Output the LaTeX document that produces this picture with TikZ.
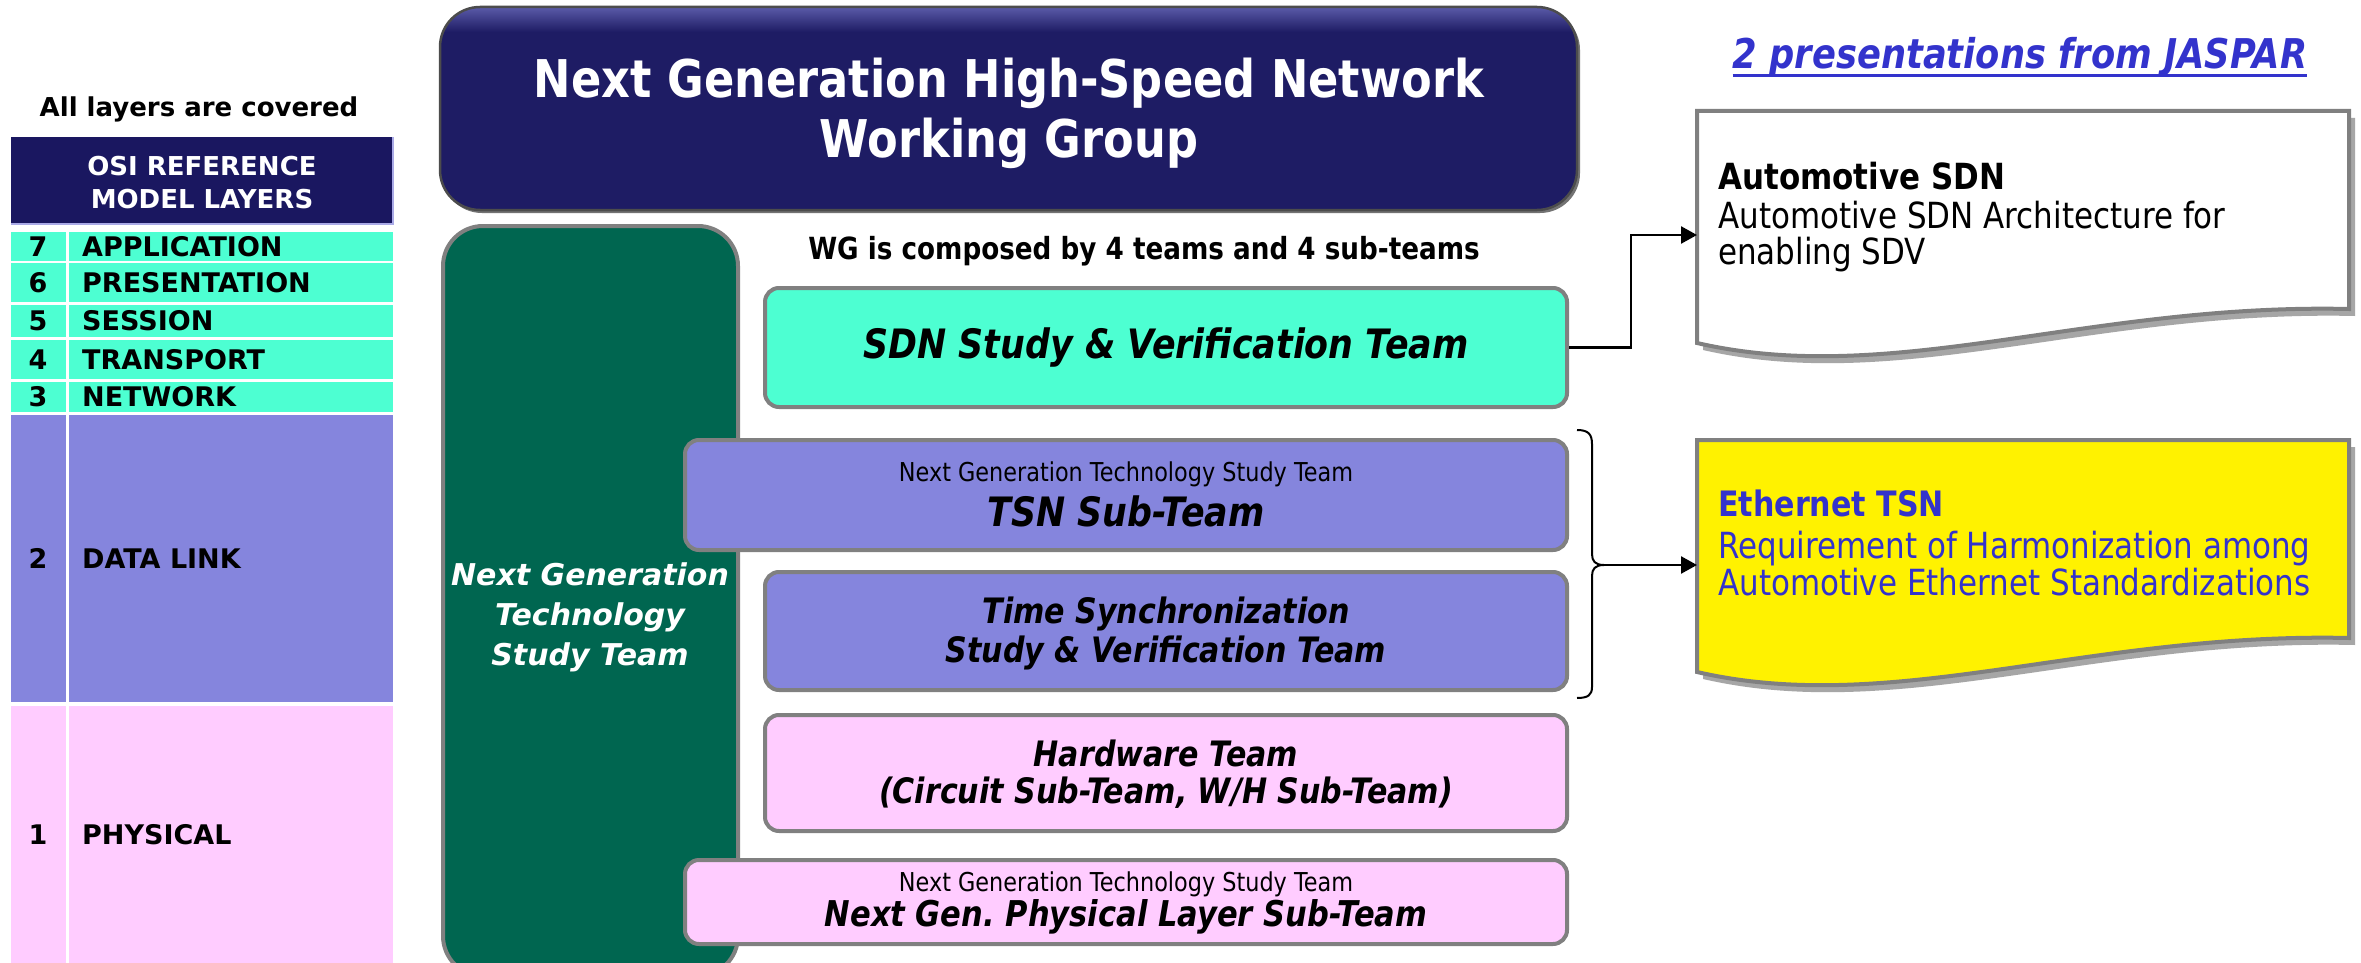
\documentclass[tikz,border=0pt]{standalone}
\usepackage{fontspec}
\setmainfont{DejaVu Sans}
\newfontfamily\tah{DejaVu Sans}[FakeStretch=0.86]
\newfontfamily\ver{DejaVu Sans}
\usetikzlibrary{arrows.meta,calc}
\definecolor{aqua}{HTML}{4DFFD2}
\definecolor{lav}{HTML}{8585DD}
\definecolor{pinkc}{HTML}{FFCCFF}
\definecolor{navy}{HTML}{1E1C64}
\definecolor{hlnavy}{HTML}{5A5AA8}
\definecolor{hnavy}{HTML}{1A1760}
\definecolor{dgreen}{HTML}{006650}
\definecolor{jblue}{HTML}{3333CC}
\definecolor{bord}{HTML}{808080}
\newcommand\fsz[2]{\fontsize{#1}{#2}\selectfont}
\begin{document}
\frenchspacing
\begin{tikzpicture}[x=1pt,y=-1pt,
  teambox/.style={draw=bord, line width=4pt, rounded corners=14pt, inner sep=0pt, align=center},
  bi/.style 2 args={font=\tah\bfseries\itshape\fsz{#1}{#2}},
  rowtxt/.style={font=\ver\bfseries\fsz{27}{30}, inner sep=0pt},
  arr/.style={line width=2.5pt, -{Triangle[length=16pt,width=17pt]}},
  docpath/.style 2 args={insert path={(#1,#2) -- ({#1+652},#2) -- ({#1+652},{#2+198}) .. controls ({#1+391},{#2+192}) and ({#1+196},{#2+277}) .. (#1,{#2+232}) -- cycle}},
  txt/.style={inner sep=0pt, align=center}
]
\useasboundingbox (0,0) rectangle (2361,963);
\fill[white] (0,0) rectangle (2361,963);

% ---------- OSI table ----------
\node[font=\ver\bfseries\fsz{26}{30}, inner sep=0pt] (allcov) at (199,109) {All layers are covered};
\fill[hnavy] (11,137) rectangle (393,224);
\draw[lav!70!white, line width=2pt] (11,224) -- (393,224) -- (393,137);
\node[font=\ver\bfseries\fsz{26}{33}, text=white, txt] (osi) at (202,183) {OSI REFERENCE\\MODEL LAYERS};
\foreach \ya/\yb/\col/\n/\name in {232/261/aqua/7/APPLICATION, 263/302/aqua/6/PRESENTATION, 305/337/aqua/5/SESSION, 340/379/aqua/4/TRANSPORT, 382/412/aqua/3/NETWORK, 415/702/lav/2/DATA LINK, 706/963/pinkc/1/PHYSICAL}{
  \fill[\col] (11,\ya) rectangle (66,\yb);
  \fill[\col] (69,\ya) rectangle (393,\yb);
  \node[rowtxt] (num\n) at (38,{(\ya+\yb)/2}) {\n};
  \node[rowtxt, anchor=west] (lay\n) at (82,{(\ya+\yb)/2}) {\name};
}

% ---------- Title ----------
\fill[black!55, rounded corners=40pt] (442,10) rectangle (1580,213);
\fill[navy, rounded corners=40pt] (440,7) rectangle (1577,210);
\begin{scope}
  \clip[rounded corners=40pt] (440,7) rectangle (1577,210);
  \shade[top color=hlnavy, bottom color=navy] (440,7) rectangle (1577,32);
\end{scope}
\node[draw=black!70, line width=2.5pt, rounded corners=40pt, minimum width=1137pt, minimum height=203pt, inner sep=0pt] (title) at (1008.5,108.5) {};
\node[font=\tah\bfseries\fsz{52}{60}, text=white, txt] (titletext) at (1009,113) {Next Generation High-Speed Network\\Working Group};

% ---------- Green team ----------
\node[draw=bord, line width=4pt, fill=dgreen, rounded corners=40pt, minimum width=295pt, minimum height=750pt, inner sep=0pt] (ngt) at (590.5,601) {};
\node[font=\ver\bfseries\itshape\fsz{30}{40}, text=white, txt] (ngttext) at (590,617) {Next Generation\\Technology\\Study Team};

\node[font=\tah\bfseries\fsz{30.5}{34}, inner sep=0pt] (wg) at (1144,251) {WG is composed by 4 teams and 4 sub-teams};

% ---------- Team boxes ----------
\node[teambox, fill=aqua, minimum width=802pt, minimum height=119pt, bi={40.5}{44}] (sdn) at (1166,347.5) {SDN Study \& Verification Team};

\node[teambox, fill=lav, minimum width=882pt, minimum height=110pt] (tsn) at (1126,495) {};
\node[font=\tah\fsz{26}{30}, txt] (tsnsmall) at (1126,474) {Next Generation Technology Study Team};
\node[bi={40.5}{44}, txt] (tsnbig) at (1126,511) {TSN Sub-Team};

\node[teambox, fill=lav, minimum width=802pt, minimum height=118pt] (ts) at (1166,631) {};
\node[bi={35}{39}, txt] (tstext) at (1166,633.5) {Time Synchronization\\Study \& Verification Team};

\node[teambox, fill=pinkc, minimum width=802pt, minimum height=116pt] (hw) at (1166,773) {};
\node[bi={35}{37}, txt] (hwtext) at (1166,774.5) {Hardware Team\\(Circuit Sub-Team, W/H Sub-Team)};

\node[teambox, fill=pinkc, minimum width=882pt, minimum height=84pt] (phy) at (1126,902) {};
\node[font=\tah\fsz{26}{30}, txt] (physmall) at (1126,884) {Next Generation Technology Study Team};
\node[bi={35.5}{39}, txt] (phybig) at (1126,917) {Next Gen. Physical Layer Sub-Team};

% ---------- Right side ----------
\node[bi={41}{45}, text=jblue, inner sep=0pt] (jaspar) at (2020,57) {2 presentations from JASPAR};
\draw[jblue, line width=2.5pt] ([yshift=-7pt]jaspar.base west) -- ([yshift=-7pt]jaspar.base east);

% SDN document
\fill[black!35, shift={(6,7)}, docpath={1697}{111}];
\draw[draw=bord, line width=4pt, fill=white, docpath={1697}{111}];
\node[font=\tah\bfseries\fsz{36}{40}, anchor=west, inner sep=0pt] (sdnh) at (1718,176) {Automotive SDN};
\node[font=\tah\fsz{36}{36}, anchor=west, align=left, inner sep=0pt] (sdnd) at (1718,237) {Automotive SDN Architecture for\\enabling SDV};

% Ethernet TSN document
\fill[black!35, shift={(6,7)}, docpath={1697}{440}];
\draw[draw=bord, line width=4pt, fill=yellow, docpath={1697}{440}];
\node[font=\tah\bfseries\fsz{35}{40}, text=jblue, anchor=west, inner sep=0pt] (ethh) at (1718,503) {Ethernet TSN};
\node[font=\tah\fsz{36}{37}, text=jblue, anchor=west, align=left, inner sep=0pt] (ethd) at (1718,564) {Requirement of Harmonization among\\Automotive Ethernet Standardizations};

% Connectors
\coordinate (sdnL) at (1697,235);
\coordinate (sdnbend) at (1631,235);
\draw[arr] (sdn.east) -| (sdnbend) -- (sdnL);

\draw[line width=2pt] (1577,430) .. controls (1588,430) and (1592,434) .. (1592,444) -- (1592,554) .. controls (1592,561) and (1595,565) .. (1604,565) .. controls (1595,565) and (1592,569) .. (1592,576) -- (1592,687) .. controls (1592,695) and (1588,698) .. (1577,698);
\coordinate (btip) at (1604,565);
\coordinate (ethL) at (1697,565);
\draw[arr] (btip) -- (ethL);
\end{tikzpicture}
\end{document}
